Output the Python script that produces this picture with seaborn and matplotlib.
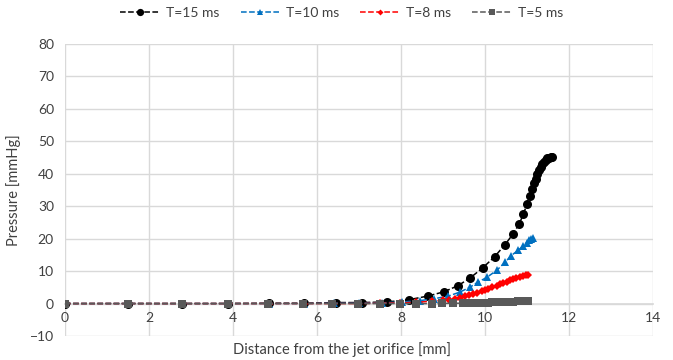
import matplotlib
matplotlib.use("Agg")
import matplotlib.pyplot as plt
import seaborn as sns
import pandas as pd

t15_x = [0, 1.5, 2.78, 3.89, 4.86, 5.69, 6.45, 7.08, 7.68, 8.2, 8.64, 9.02, 9.36, 9.65, 9.95, 10.23, 10.47, 10.67, 10.82, 10.92,
         11.0, 11.07, 11.12, 11.17, 11.21, 11.25, 11.29, 11.33, 11.37, 11.41, 11.45, 11.49, 11.53, 11.57, 11.6]
t15_y = [0, 0, 0, 0, 0.1, 0.1, 0.3, 0.3, 0.5, 1.2, 2.3, 3.6, 5.5, 7.9, 11.0, 14.4, 18.0, 21.4, 24.6, 27.6,
         30.6, 33.2, 35.2, 37.0, 38.5, 39.8, 41.0, 42.0, 42.9, 43.6, 44.2, 44.7, 45.0, 45.2, 45.3]

t10_x = [0, 1.5, 2.78, 3.89, 4.86, 5.69, 6.4, 7.0, 7.55, 8.03, 8.45, 8.8, 9.13, 9.40, 9.64, 9.84, 10.05, 10.28, 10.48, 10.63,
         10.79, 10.92, 11.0, 11.06, 11.11, 11.15]
t10_y = [0, 0, 0, 0, 0, 0, 0.1, 0.1, 0.2, 0.5, 0.9, 1.5, 2.3, 3.5, 5.0, 6.6, 8.1, 10.2, 12.7, 14.8,
         16.4, 17.8, 18.8, 19.5, 19.9, 20.1]

t8_x = [0, 1.5, 2.78, 3.89, 4.86, 5.69, 6.35, 6.98, 7.5, 7.98, 8.37, 8.73, 9.0, 9.15, 9.29, 9.41, 9.52, 9.62, 9.72, 9.82,
        9.92, 10.0, 10.08, 10.18, 10.28, 10.36, 10.44, 10.52, 10.6, 10.68, 10.75, 10.83, 10.91, 10.97, 11.03]
t8_y = [0, 0, 0, 0, 0, 0, 0, 0, 0.1, 0.2, 0.4, 0.7, 1.0, 1.2, 1.4, 1.8, 2.2, 2.6, 3.0, 3.4,
        3.8, 4.1, 4.5, 5.0, 5.5, 5.9, 6.3, 6.7, 7.1, 7.5, 7.9, 8.3, 8.6, 8.8, 8.9]

t5_x = [0, 1.5, 2.78, 3.89, 4.84, 5.67, 6.35, 6.98, 7.5, 7.98, 8.37, 8.73, 8.97, 9.25, 9.48, 9.68, 9.78, 9.88, 9.98, 10.08,
        10.18, 10.28, 10.38, 10.48, 10.58, 10.68, 10.78, 10.88, 10.96, 11.03]
t5_y = [0, 0, 0, 0, 0, 0, 0, 0, 0, 0, 0, 0, 0.05, 0.1, 0.1, 0.15, 0.2, 0.22, 0.25, 0.3,
        0.35, 0.4, 0.45, 0.5, 0.55, 0.6, 0.7, 0.8, 0.85, 0.9]

labels = ["T=15 ms", "T=10 ms", "T=8 ms", "T=5 ms"]
x_ticks = [0, 2, 4, 6, 8, 10, 12, 14]
y_ticks = [-10, 0, 10, 20, 30, 40, 50, 60, 70, 80]

sns.set_theme(style="white")
plt.rcParams['font.family'] = ['Lato', 'DejaVu Sans']

fig = plt.figure(figsize=(6.73, 3.6), dpi=100)
ax = fig.add_axes([0.0966, 0.0667, 0.8734, 0.8113])

styles = [
    (t15_x, t15_y, "black", "o", 6.5),
    (t10_x, t10_y, "#0070C0", "^", 5.5),
    (t8_x, t8_y, "#FF0000", "D", 3.8),
    (t5_x, t5_y, "#595959", "s", 6),
]
for (xs, ys, c, m, ms), lab in zip(styles, labels):
    df = pd.DataFrame({"x": xs, "y": ys})
    sns.lineplot(data=df, x="x", y="y", ax=ax, color=c, marker=m, markersize=ms,
                 markeredgewidth=0, linestyle="--", linewidth=1.1, estimator=None,
                 sort=False, label=lab)

ax.set_xlim(0, 14)
ax.set_ylim(-10, 80)
ax.set_xticks(x_ticks)
ax.set_yticks(y_ticks)
ax.grid(True, color="#d9d9d9", linewidth=1)
for s in ax.spines.values():
    s.set_visible(False)
ax.spines["bottom"].set_position(("data", 0))
ax.spines["bottom"].set_visible(True)
ax.spines["bottom"].set_color("#d9d9d9")
ax.spines["bottom"].set_zorder(0.5)
ax.tick_params(length=0, labelsize=10, colors="#404040")
ax.tick_params(axis="x", pad=6)
ax.tick_params(axis="y", pad=8)
ax.set_xlabel("")
fig.text(0.508, 1 - 350 / 360, "Distance from the jet orifice [mm]", fontsize=10.5,
         color="#404040", ha="center", va="center")
ax.set_ylabel("Pressure [mmHg]", fontsize=10.5, color="#404040", labelpad=6)
ax.set_axisbelow(True)

ax.get_legend().remove()
h, l = ax.get_legend_handles_labels()
fig.legend(h, l, loc="center", bbox_to_anchor=(0.508, 0.964), ncol=4, frameon=False,
           fontsize=10, labelcolor="#404040", handlelength=2.8, columnspacing=1.5,
           handletextpad=0.5, numpoints=1, markerscale=0.8)

fig.savefig("out.png", dpi=100)
